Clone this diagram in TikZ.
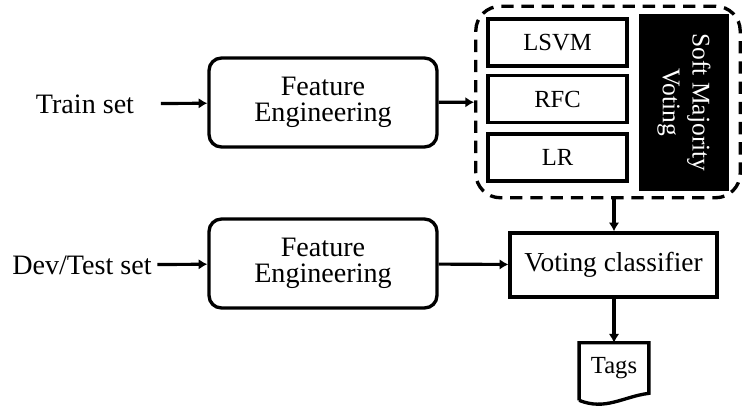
\documentclass[tikz,border=0pt]{standalone}
\usepackage{fontspec}
\setmainfont{Liberation Serif}
\usepackage{xcolor}
\usetikzlibrary{arrows.meta}

\begin{document}
\begin{tikzpicture}[x=0.02cm, y=-0.02cm,
    every node/.style={font=\fontsize{16}{14.5}\selectfont},
    inp/.style={inner sep=3pt},
    fe/.style={draw, line width=1.9pt, rounded corners=7pt, align=center,
               minimum width=129.7pt, minimum height=50.6pt},
    clf/.style={draw, line width=1.9pt, minimum width=79pt, minimum height=26.7pt,
                font=\fontsize{14}{16}\selectfont},
    arr/.style={-{Latex[length=5pt, width=6pt]}, line width=1.8pt},
  ]
    \useasboundingbox (0,0) rectangle (744,407);

    % Inputs
    \node[inp] (train) at (85,104) {Train set};
    \node[inp] (dev)   at (82,265) {Dev/Test set};

    % Feature engineering
    \node[fe] (fetrain) at (323,102.5) {Feature\\Engineering};
    \node[fe] (fedev)   at (323,263.5) {Feature\\Engineering};

    % Ensemble
    \node[draw, line width=1.9pt, dash pattern=on 7pt off 4.5pt, rounded corners=14pt,
          minimum width=150.5pt, minimum height=109pt] (ens) at (608,102) {};
    \node[clf] (lsvm) at (557.5,42.5) {LSVM};
    \node[clf] (rfc)  at (557.5,99)   {RFC};
    \node[clf] (lr)   at (557.5,157.5) {LR};
    \node[fill=black, text=white, rotate=-90, align=center,
          font=\fontsize{14.5}{17}\selectfont,
          minimum width=100.7pt, minimum height=51pt] (soft) at (684,102.5)
          {Soft Majority\\Voting};

    % Output
    \node[draw, line width=1.9pt, minimum width=117.8pt, minimum height=36.4pt,
          font=\fontsize{15.6}{17}\selectfont] (vc)
          at (613.5,265) {Voting classifier};
    \node[minimum width=39.3pt, minimum height=28.4pt,
          font=\fontsize{14}{16}\selectfont] (tags) at (614,368) {Tags};
    \draw[line width=1.9pt] ([yshift=-4pt]tags.south west) -- (tags.north west)
          -- (tags.north east) -- (tags.south east)
          .. controls +(-15pt,-2pt) and +(15pt,-6pt) .. ([yshift=-4pt]tags.south west);

    % Arrows
    \draw[arr, shorten <=12pt] (train) -- (fetrain);
    \draw[arr] (dev)     -- (fedev);
    \draw[arr] (fetrain) -- (ens);
    \draw[arr] (fedev)   -- (vc);
    \draw[arr] (ens.south -| tags.north) -- (vc.north -| tags.north);
    \draw[arr] (vc.south -| tags.north)  -- (tags.north);
  \end{tikzpicture}
\end{document}
